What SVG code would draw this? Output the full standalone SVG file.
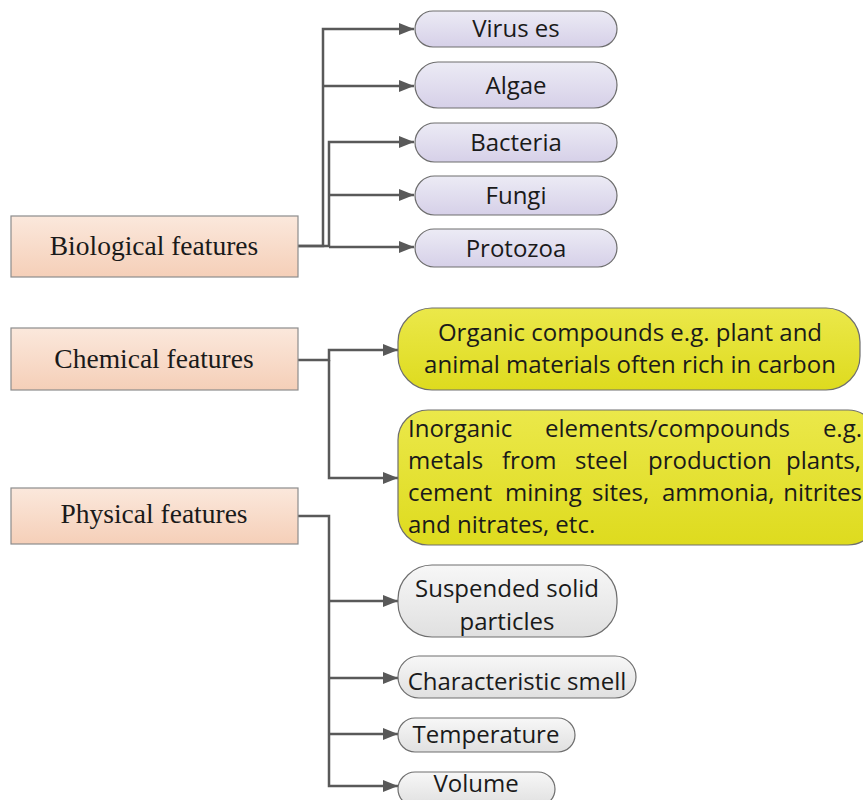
<svg xmlns="http://www.w3.org/2000/svg" width="863" height="800" viewBox="0 0 863 800">
<defs>
<linearGradient id="gPeach" x1="0" y1="0" x2="0" y2="1"><stop offset="0" stop-color="#fbe8dc"/><stop offset="1" stop-color="#f5cfb8"/></linearGradient>
<linearGradient id="gLav" x1="0" y1="0" x2="0" y2="1"><stop offset="0" stop-color="#ecebf5"/><stop offset="1" stop-color="#d6d0e8"/></linearGradient>
<linearGradient id="gYel" x1="0" y1="0" x2="0" y2="1"><stop offset="0" stop-color="#ebe84a"/><stop offset="1" stop-color="#dedb1e"/></linearGradient>
<linearGradient id="gGray" x1="0" y1="0" x2="0" y2="1"><stop offset="0" stop-color="#f7f7f7"/><stop offset="1" stop-color="#e0e0e0"/></linearGradient>
<marker id="arr" markerUnits="userSpaceOnUse" markerWidth="15" markerHeight="12" refX="15" refY="6" orient="auto"><path d="M0,0 L15,6 L0,12 z" fill="#595959"/></marker>
</defs>
<style>
.box{fill:url(#gPeach);stroke:#8c8c8c;stroke-width:1.2}
.lav{fill:url(#gLav);stroke:#6e6e6e;stroke-width:1.2}
.yel{fill:url(#gYel);stroke:#6e6e6e;stroke-width:1.2}
.gry{fill:url(#gGray);stroke:#6e6e6e;stroke-width:1.2}
.serif{font-family:"Liberation Serif","Times New Roman",serif;font-size:27.5px;fill:#1a1a1a;text-anchor:middle}
.sans{font-family:"Open Sans","Noto Sans",sans-serif;font-size:24px;fill:#1a1a1a;text-anchor:middle}
.sl{font-family:"Open Sans","Noto Sans",sans-serif;font-size:24px;fill:#1a1a1a}
.con{fill:none;stroke:#595959;stroke-width:2.5}
</style>
<g id="connectors">
<path class="con" d="M298,246 H323 V29 H414" marker-end="url(#arr)"/>
<path class="con" d="M323,86 H414" marker-end="url(#arr)"/>
<path class="con" d="M298,246 H329 V142 H414" marker-end="url(#arr)"/>
<path class="con" d="M329,195 H414" marker-end="url(#arr)"/>
<path class="con" d="M329,247 H414" marker-end="url(#arr)"/>
<path class="con" d="M298,360 H329 V350 H398" marker-end="url(#arr)"/>
<path class="con" d="M329,360 V478 H398" marker-end="url(#arr)"/>
<path class="con" d="M298,516 H329 V786 H398" marker-end="url(#arr)"/>
<path class="con" d="M329,601 H398" marker-end="url(#arr)"/>
<path class="con" d="M329,678 H398" marker-end="url(#arr)"/>
<path class="con" d="M329,734 H398" marker-end="url(#arr)"/>
</g>
<g id="biological"><rect class="box" x="11" y="216" width="287" height="61"/><text class="serif" x="154" y="255">Biological features</text></g>
<g id="chemical"><rect class="box" x="11" y="328" width="287" height="62"/><text class="serif" x="154" y="368">Chemical features</text></g>
<g id="physical"><rect class="box" x="11" y="488" width="287" height="56"/><text class="serif" x="154" y="523">Physical features</text></g>
<g id="viruses"><rect class="lav" x="415" y="11" width="202" height="36" rx="18"/><text class="sans" x="516" y="37">Virus es</text></g>
<g id="algae"><rect class="lav" x="415" y="62" width="202" height="46" rx="23"/><text class="sans" x="516" y="94">Algae</text></g>
<g id="bacteria"><rect class="lav" x="415" y="123" width="202" height="39" rx="19.5"/><text class="sans" x="516" y="151">Bacteria</text></g>
<g id="fungi"><rect class="lav" x="415" y="176" width="202" height="39" rx="19.5"/><text class="sans" x="516" y="204">Fungi</text></g>
<g id="protozoa"><rect class="lav" x="415" y="229" width="202" height="38" rx="19"/><text class="sans" x="516" y="257">Protozoa</text></g>
<g id="organic"><rect class="yel" x="398" y="308" width="462" height="82" rx="34"/><text class="sans" x="630" y="341">Organic compounds e.g. plant and</text><text class="sans" x="630" y="373">animal materials often rich in carbon</text></g>
<g id="inorganic"><rect class="yel" x="398" y="410" width="480" height="135" rx="30"/>
<text class="sl" y="437"><tspan x="408">Inorganic</tspan><tspan x="545">elements/compounds</tspan><tspan x="862" text-anchor="end">e.g.</tspan></text>
<text class="sl" y="469"><tspan x="408">metals</tspan><tspan x="502">from</tspan><tspan x="575">steel</tspan><tspan x="648">production</tspan><tspan x="861" text-anchor="end">plants,</tspan></text>
<text class="sl" y="501"><tspan x="408">cement</tspan><tspan x="505">mining</tspan><tspan x="592">sites,</tspan><tspan x="662">ammonia,</tspan><tspan x="862" text-anchor="end">nitrites</tspan></text>
<text class="sl" x="408" y="533">and nitrates, etc.</text></g>
<g id="suspended"><rect class="gry" x="398" y="565" width="219" height="72" rx="34"/><text class="sans" x="507" y="597">Suspended solid</text><text class="sans" x="507" y="630">particles</text></g>
<g id="smell"><rect class="gry" x="398" y="656" width="238" height="42" rx="21"/><text class="sans" x="517" y="690">Characteristic smell</text></g>
<g id="temperature"><rect class="gry" x="398" y="718" width="177" height="34" rx="17"/><text class="sans" x="486" y="743">Temperature</text></g>
<g id="volume"><rect class="gry" x="398" y="772" width="157" height="34" rx="17"/><text class="sans" x="476" y="792" font-size="23">Volume</text></g>
</svg>
